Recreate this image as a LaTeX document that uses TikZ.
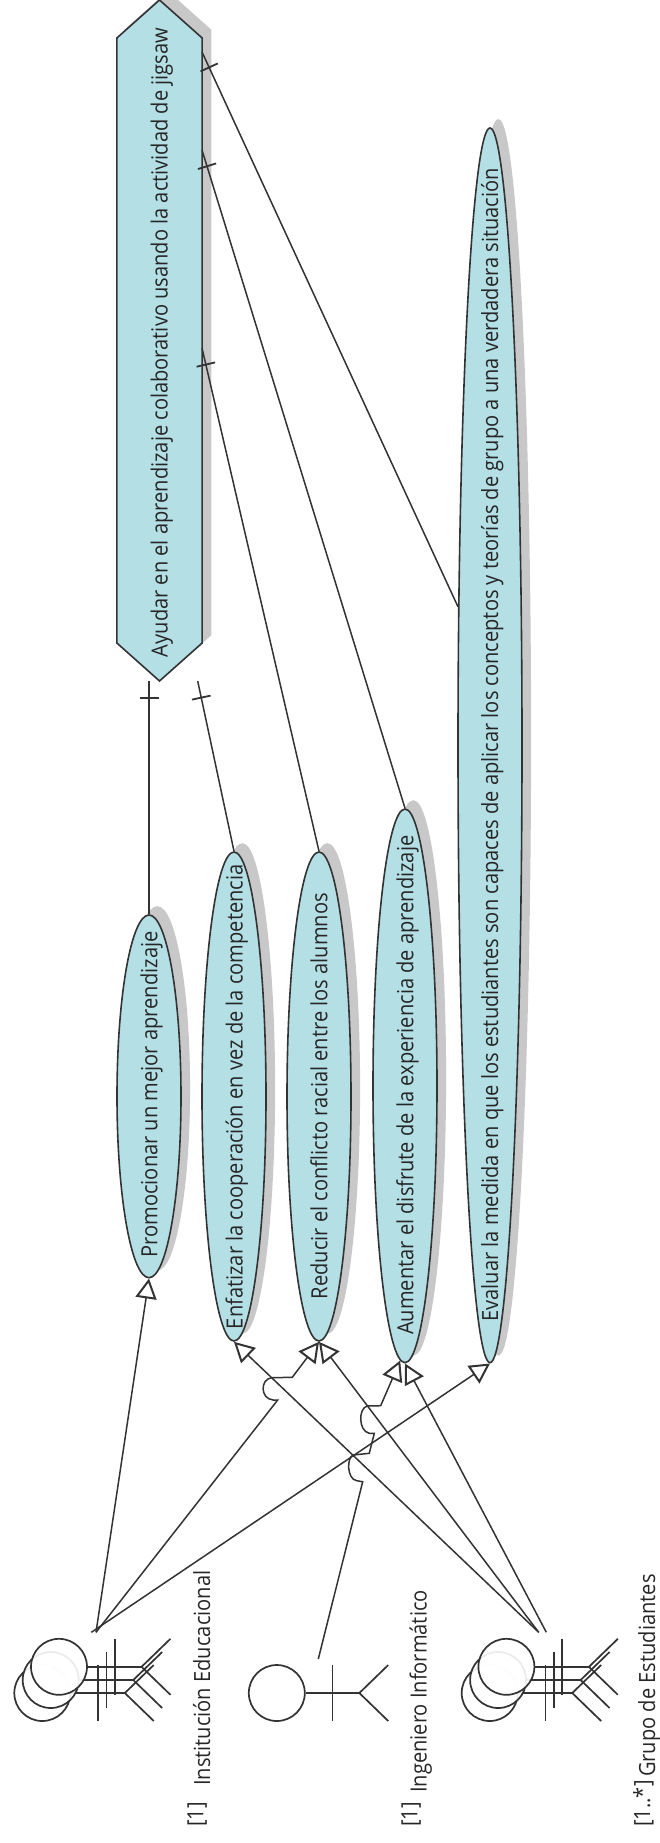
\documentclass[tikz,border=0pt]{standalone}
\usepackage{fontspec}
\setmainfont[FakeStretch=0.9]{Open Sans}
\usetikzlibrary{arrows.meta,calc,shadows,shapes.geometric,shapes.symbols}

\definecolor{goalblue}{HTML}{B4DFE5}
\definecolor{shadegray}{HTML}{C8C8C8}
\definecolor{inkgray}{HTML}{333333}

\tikzset{
    goalshape/.style={draw=inkgray, fill=goalblue, line width=1.6pt, inner sep=0pt,
        copy shadow={shadow xshift=8.3pt, shadow yshift=8pt, fill=shadegray, draw=shadegray, opacity=1}},
    goaloval/.style={goalshape, shape=ellipse, minimum width=64pt},
    goalhex/.style={goalshape, shape=signal, signal to=north and south, signal pointer angle=96.6,
        minimum width=85.3pt, minimum height=605pt},
    goaltext/.style={rotate=90, anchor=base west, inner sep=0pt, text=black!85, font=\fontsize{22.3}{24}\selectfont},
    actorhead/.style={shape=circle, draw=inkgray, fill=white, fill opacity=.9, line width=1.7pt, minimum size=56pt, inner sep=0pt},
    actorline/.style={draw=inkgray, line width=1.7pt},
    assoc/.style={draw=inkgray, line width=1.5pt},
    generalize/.style={assoc, -{Triangle[open, length=20pt, width=21pt, line width=2pt, fill=white]}},
}

% one stick figure: name, x of the head, y of the head
\newcommand{\stickfigure}[3]{
    \node[actorhead] (#1) at (#2,#3) {};
    \draw[actorline] (#1.east) -- ++(53.7,0) coordinate (#1hip);
    \draw[actorline] ($(#2,#3)+(55.7,-28)$) -- ($(#2,#3)+(55.7,28)$);
    \draw[actorline] (#1hip) -- ++(28.9,-28);
    \draw[actorline] (#1hip) -- ++(28.9,28);
}

\begin{document}
\begin{tikzpicture}[x=1pt, y=-1pt]
\useasboundingbox (0,0) rectangle (660,1843);

% goals
\node[goalhex] (jigsaw) at (159.5,340.5) {};
\node[goaloval, minimum height=362.7pt] (promocionar) at (149,1096.35) {};
\node[goaloval, minimum height=489pt] (enfatizar) at (234,1096.5) {};
\node[goaloval, minimum height=489pt] (reducir) at (319,1096.5) {};
\node[goaloval, minimum height=553.7pt] (aumentar) at (405,1085.85) {};
\node[goaloval, minimum height=1234.7pt] (evaluar) at (490,745.35) {};

\node[goaltext] (jigsawtxt) at (167.7,657.3) {Ayudar en el aprendizaje colaborativo usando la actividad de jigsaw};
\node[goaltext] (promocionartxt) at (157.3,1257.6) {Promocionar un mejor aprendizaje};
\node[goaltext] (enfatizartxt) at (242.7,1329.3) {Enfatizar la cooperación en vez de la competencia};
\node[goaltext] (reducirtxt) at (327.3,1299.3) {Reducir el conflicto racial entre los alumnos};
\node[goaltext] (aumentartxt) at (413.3,1335) {Aumentar el disfrute de la experiencia de aprendizaje};
\node[goaltext] (evaluartxt) at (498,1321.7) {Evaluar la medida en que los estudiantes son capaces de aplicar los conceptos y teorías de grupo a una verdadera situación};

% actors, back copy first
\foreach \i/\x/\y in {1/42.3/1693,2/50.7/1680,3/59/1666.8}{
    \stickfigure{institucion\i}{\x}{\y}
}
\stickfigure{ingeniero}{276.8}{1693}
\foreach \i/\x/\y in {1/489.7/1693,2/498.1/1680,3/506.4/1666.8}{
    \stickfigure{grupo\i}{\x}{\y}
}

\node[goaltext] (institucionnum) at (203.3,1827) {[1]};
\node[goaltext] (institucionlab) at (210,1786) {Institución Educacional};
\node[goaltext] (ingenieronum) at (417.3,1827) {[1]};
\node[goaltext] (ingenierolab) at (426.7,1793) {Ingeniero Informático};
\node[goaltext] (gruponum) at (650,1827) {[1..*]};
\node[goaltext] (grupolab) at (655,1777) {Grupo de Estudiantes};

% free ends
\coordinate (institucionout) at (96,1632.3);
\coordinate (institucionoutb) at (91.3,1632.3);
\coordinate (ingenieroout) at (318.3,1659);
\coordinate (grupoout) at (538.7,1632.3);
\coordinate (grupooutb) at (546.3,1632.3);
\coordinate (jigsawa) at (202,52);
\coordinate (jigsawb) at (202,150);
\coordinate (jigsawc) at (202,348);
\coordinate (jigsawd) at (197.7,681);
\coordinate (jigsawe) at (149,681);

% actor to goal
\draw[generalize] (institucionout) -- (promocionar.south);
\draw[generalize] (institucionoutb) -- (evaluar.south);
\draw[generalize] (grupoout) -- (enfatizar.south);
\draw[generalize] (grupoout) -- (reducir.south);
\draw[generalize] (grupooutb) -- (aumentar.south);

% the ones that jump over another line
\draw[generalize] (institucionout) -- (277.7,1400) -- (273.3,1400)
    .. controls (260,1399) and (260,1379) .. (271.7,1377.7) -- (292.3,1377.3) -- (reducir.south);
\draw[generalize] (ingenieroout) -- (362.7,1481.7) -- (356.7,1480.7)
    .. controls (346.6,1479) and (346.6,1457) .. (353.3,1455) -- (369.3,1453.3) -- (374.3,1433.3) -- (369.3,1433.3)
    .. controls (358.2,1431) and (358.2,1408) .. (367.3,1406) -- (380.7,1405.7) -- (aumentar.-91.8);

% goal to the main goal, with a tick
\foreach \from/\to in {promocionar.north/jigsawe,enfatizar.north/jigsawd,reducir.north/jigsawc,aumentar.north/jigsawb,evaluar.103.75/jigsawa}{
    \draw[assoc] (\from) -- (\to);
    \draw[assoc, line width=1.8pt] ($(\to)!17pt!(\from)!9.5pt!90:(\from)$) -- ($(\to)!17pt!(\from)!9.5pt!-90:(\from)$);
}

\end{tikzpicture}
\end{document}
